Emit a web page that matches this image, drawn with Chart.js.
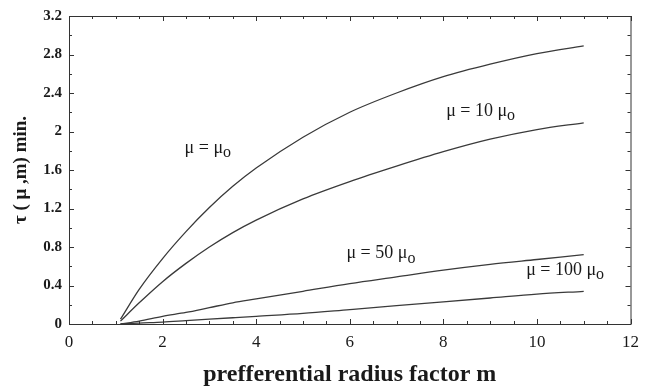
<!DOCTYPE html>
<html>
<head>
<meta charset="utf-8">
<script src="https://cdn.jsdelivr.net/npm/chart.js@4"></script>
<style>
  html, body { margin: 0; padding: 0; background: #fff; }
  #wrap { width: 647px; height: 389px; }
</style>
</head>
<body>
<div id="wrap"><canvas id="chart" width="647" height="389"></canvas></div>
<script>
// radius factor m (x values)
const mValues = [1.1, 1.5, 2, 2.5, 3, 3.5, 4, 5, 6, 7, 8, 9, 10, 11];

// tau(mu, m) in min
const tauMu1   = [0.05, 0.36, 0.68, 0.96, 1.21, 1.43, 1.62, 1.94, 2.20, 2.40, 2.57, 2.70, 2.81, 2.89];
const tauMu10  = [0.03, 0.22, 0.44, 0.63, 0.80, 0.95, 1.08, 1.30, 1.48, 1.64, 1.79, 1.92, 2.02, 2.09];
const tauMu50  = [0.00, 0.03, 0.08, 0.12, 0.17, 0.22, 0.26, 0.34, 0.42, 0.49, 0.56, 0.62, 0.67, 0.72];
const tauMu100 = [0.00, 0.01, 0.02, 0.035, 0.05, 0.065, 0.08, 0.11, 0.15, 0.19, 0.23, 0.27, 0.31, 0.34];

const xTicks = [0, 2, 4, 6, 8, 10, 12];
const yTicks = [0, 0.4, 0.8, 1.2, 1.6, 2, 2.4, 2.8, 3.2];

// curve labels: [main text, subscript, x, y] in data units
const curveLabels = [
    ['\u03bc = \u03bc', 'o', 2.47, 1.83],
    ['\u03bc = 10 \u03bc', 'o', 8.06, 2.21],
    ['\u03bc = 50 \u03bc', 'o', 5.93, 0.73],
    ['\u03bc = 100 \u03bc', 'o', 9.77, 0.56]
];

function toPoints(ys) {
    return mValues.map((m, i) => ({ x: m, y: ys[i] }));
}

function lineSet(ys) {
    return {
        data: toPoints(ys),
        borderColor: '#3a3a3a',
        borderWidth: 1.3,
        pointRadius: 0,
        showLine: true,
        fill: false,
        cubicInterpolationMode: 'monotone'
    };
}

// frame with inward ticks, plus curve labels
const framePlugin = {
    id: 'frame',
    afterDatasetsDraw(chart) {
        const ctx = chart.ctx;
        const a = chart.chartArea;
        const xs = chart.scales.x, ys = chart.scales.y;
        ctx.save();
        ctx.strokeStyle = '#333';
        ctx.lineWidth = 1;
        ctx.strokeRect(a.left + 0.5, a.top + 0.5, a.right - a.left, a.bottom - a.top);
        ctx.beginPath();
        for (let v = 0; v <= 12.001; v += 0.5) {
            const px = Math.round(xs.getPixelForValue(v)) + 0.5;
            const len = (v % 2 === 0) ? 5 : 3;
            ctx.moveTo(px, a.bottom); ctx.lineTo(px, a.bottom - len);
            ctx.moveTo(px, a.top); ctx.lineTo(px, a.top + len);
        }
        for (let i = 0; i <= 16; i++) {
            const v = i * 0.2;
            const py = Math.round(ys.getPixelForValue(v)) + 0.5;
            const len = (i % 2 === 0) ? 5 : 3;
            ctx.moveTo(a.left, py); ctx.lineTo(a.left + len, py);
            ctx.moveTo(a.right, py); ctx.lineTo(a.right - len, py);
        }
        ctx.stroke();

        ctx.fillStyle = '#1a1a1a';
        ctx.textBaseline = 'middle';
        ctx.textAlign = 'left';
        curveLabels.forEach(([txt, sub, x, y]) => {
            const px = xs.getPixelForValue(x);
            const py = ys.getPixelForValue(y);
            ctx.font = '18px "Liberation Serif"';
            ctx.fillText(txt, px, py);
            const w = ctx.measureText(txt).width;
            ctx.font = '16px "Liberation Serif"';
            ctx.fillText(sub, px + w, py + 5);
        });
        ctx.restore();
    }
};

new Chart(document.getElementById('chart'), {
    type: 'scatter',
    data: {
        datasets: [lineSet(tauMu1), lineSet(tauMu10), lineSet(tauMu50), lineSet(tauMu100)]
    },
    options: {
        responsive: false,
        animation: false,
        layout: { padding: { top: 14, right: 14, bottom: 0, left: 0 } },
        plugins: {
            legend: { display: false },
            tooltip: { enabled: false }
        },
        scales: {
            x: {
                type: 'linear',
                min: 0,
                max: 12,
                afterBuildTicks: s => { s.ticks = xTicks.map(v => ({ value: v })); },
                afterFit: s => { s.height = 65; },
                grid: { display: false, drawTicks: false },
                border: { display: false },
                ticks: {
                    padding: 8,
                    color: '#1a1a1a',
                    font: { family: 'Liberation Serif', size: 17 },
                    maxRotation: 0,
                    callback: v => String(v)
                },
                title: {
                    display: true,
                    text: 'prefferential radius factor m',
                    color: '#1a1a1a',
                    font: { family: 'Liberation Serif', size: 24, weight: 'bold' },
                    padding: { top: 0, bottom: 0 }
                }
            },
            y: {
                type: 'linear',
                min: 0,
                max: 3.2,
                afterBuildTicks: s => { s.ticks = yTicks.map(v => ({ value: v })); },
                afterFit: s => { s.width = 69; },
                grid: { display: false, drawTicks: false },
                border: { display: false },
                ticks: {
                    padding: 7,
                    color: '#1a1a1a',
                    font: { family: 'Liberation Serif', size: 15, weight: 'bold' },
                    callback: v => String(v)
                },
                title: {
                    display: true,
                    text: '\u03c4 ( \u03bc ,m) min.',
                    color: '#1a1a1a',
                    font: { family: 'Liberation Serif', size: 19, weight: 'bold' },
                    padding: { top: 10, bottom: 0 }
                }
            }
        }
    },
    plugins: [framePlugin]
});
</script>
</body>
</html>
